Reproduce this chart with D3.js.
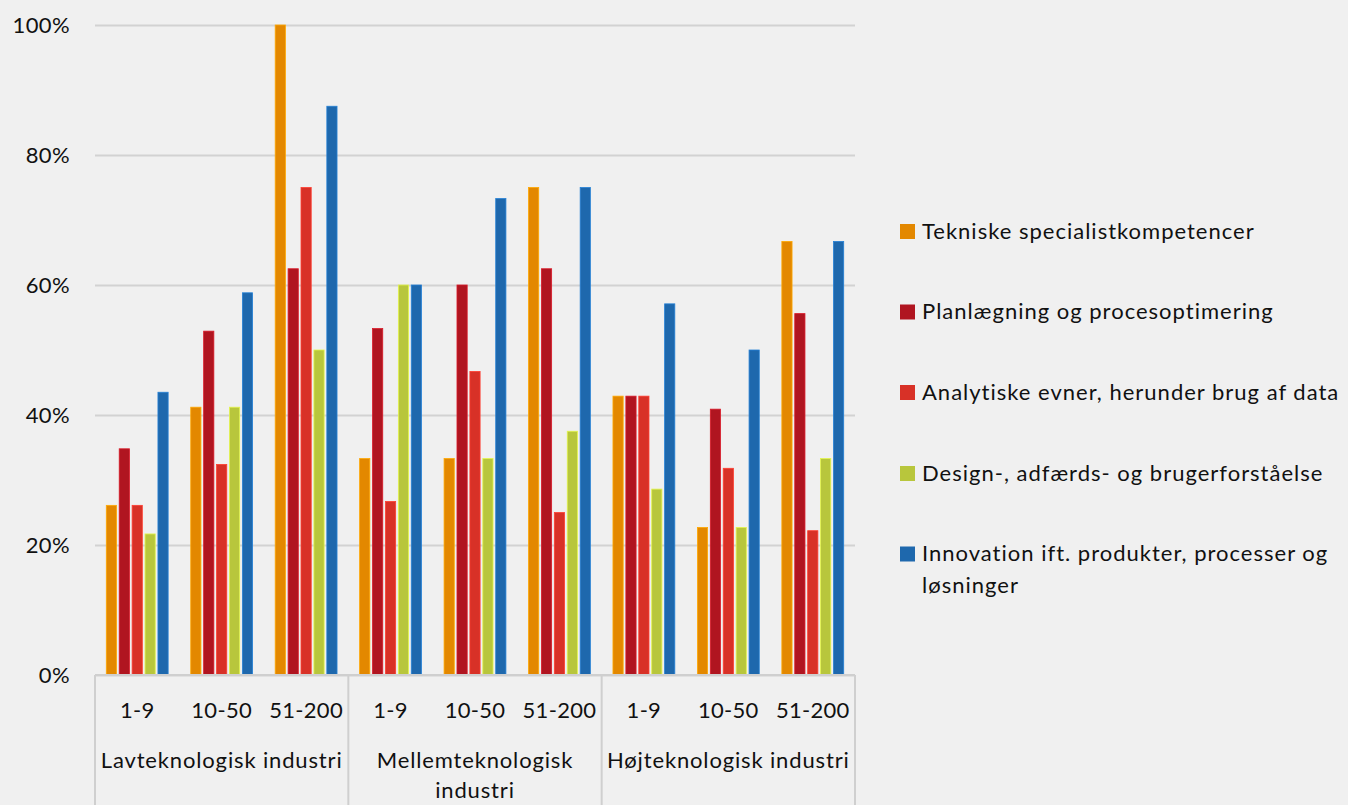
<!DOCTYPE html>
<html>
<head>
<meta charset="utf-8">
<script src="https://cdn.jsdelivr.net/npm/d3@7"></script>
<style>
  html, body { margin: 0; padding: 0; background: #f0f0f0; }
  svg { display: block; }
  text { font-family: Lato, "Open Sans", sans-serif; fill: #111; }
</style>
</head>
<body>
<svg id="chart" width="1348" height="805"></svg>
<script>
// Industry groups and company-size bands
const industries = ["Lavteknologisk industri", "Mellemteknologisk industri", "Højteknologisk industri"];
const sizes = ["1-9", "10-50", "51-200"];

// Competence areas (series)
const series = [
  "Tekniske specialistkompetencer",
  "Planlægning og procesoptimering",
  "Analytiske evner, herunder brug af data",
  "Design-, adfærds- og brugerforståelse",
  "Innovation ift. produkter, processer og løsninger"
];
const colors = ["#e38800", "#b01520", "#d83127", "#b8c63c", "#1e68ad"];

// Share per competence, in industry/size order (Lav 1-9 … Høj 51-200)
const tekniske   = [0.261, 0.412, 1.000, 0.333, 0.333, 0.750, 0.429, 0.227, 0.667];
const planlaeg   = [0.348, 0.529, 0.625, 0.533, 0.600, 0.625, 0.429, 0.409, 0.556];
const analytiske = [0.261, 0.324, 0.750, 0.267, 0.467, 0.250, 0.429, 0.318, 0.222];
const design     = [0.217, 0.412, 0.500, 0.600, 0.333, 0.375, 0.286, 0.227, 0.333];
const innovation = [0.435, 0.588, 0.875, 0.600, 0.733, 0.750, 0.571, 0.500, 0.667];
const seriesValues = [tekniske, planlaeg, analytiske, design, innovation];

const yTicks = [0, 0.2, 0.4, 0.6, 0.8, 1.0];

const svg = d3.select("#chart");

const plotLeft = 95, plotRight = 855, plotTop = 25, plotBottom = 675;
const fontSize = 22;

const groups = [];
industries.forEach((ind, i) => sizes.forEach((s, j) => groups.push({ key: i + "|" + j, industry: ind, size: s, idx: i * sizes.length + j })));

const x0 = d3.scaleBand().domain(groups.map(g => g.key)).range([plotLeft, plotRight]).padding(0);
const x1 = d3.scaleBand().domain(series).range([0, x0.bandwidth()]).paddingInner(0.21).paddingOuter(0.875);
const y = d3.scaleLinear().domain([0, 1]).range([plotBottom, plotTop]);

// Gridlines and y labels
const yAxis = d3.axisLeft(y).tickValues(yTicks).tickFormat(d3.format(".0%")).tickSize(-(plotRight - plotLeft)).tickPadding(25);
const ga = svg.append("g").attr("transform", `translate(${plotLeft},0)`).call(yAxis);
ga.select(".domain").remove();
ga.selectAll(".tick line").attr("stroke", "#d2d2d2").attr("stroke-width", 2);
ga.selectAll(".tick text")
  .attr("font-size", fontSize).attr("fill", "#111").attr("letter-spacing", 0.4)
  .style("font-family", "Lato, 'Open Sans', sans-serif");

// Bars
const gBars = svg.append("g");
groups.forEach(g => {
  const gg = gBars.append("g").attr("transform", `translate(${x0(g.key)},0)`);
  gg.selectAll("rect")
    .data(series.map((s, k) => ({ s, v: seriesValues[k][g.idx], c: colors[k] })))
    .join("rect")
    .attr("x", d => x1(d.s))
    .attr("width", x1.bandwidth())
    .attr("y", d => y(d.v))
    .attr("height", d => y(0) - y(d.v))
    .attr("fill", d => d.c)
    .attr("stroke", d => d3.color(d.c).brighter(0.6))
    .attr("stroke-width", 0.8);
});

// Category axis: baseline, dividers and labels
const axisCol = "#cfcfcf";
svg.append("line").attr("x1", plotLeft).attr("x2", plotRight).attr("y1", plotBottom).attr("y2", plotBottom)
  .attr("stroke", axisCol).attr("stroke-width", 2);

const industryEdges = industries.map((_, i) => x0(i + "|0")).concat([plotRight]);
svg.selectAll(".divider").data(industryEdges).join("line")
  .attr("class", "divider")
  .attr("x1", d => d).attr("x2", d => d)
  .attr("y1", plotBottom).attr("y2", 805)
  .attr("stroke", axisCol).attr("stroke-width", 2);

svg.selectAll(".size-label").data(groups).join("text")
  .attr("class", "size-label")
  .attr("x", g => x0(g.key) + x0.bandwidth() / 2)
  .attr("y", 718)
  .attr("text-anchor", "middle")
  .attr("font-size", fontSize)
  .attr("letter-spacing", 0.3)
  .text(g => g.size);

// Industry labels, wrapped to the width of their section
function wrap(textSel, width) {
  textSel.each(function () {
    const t = d3.select(this);
    const words = t.text().split(/\s+/);
    const xPos = t.attr("x");
    t.text(null);
    let line = [];
    let tspan = t.append("tspan").attr("x", xPos).attr("dy", 0);
    words.forEach(w => {
      line.push(w);
      tspan.text(line.join(" "));
      if (tspan.node().getComputedTextLength() > width && line.length > 1) {
        line.pop();
        tspan.text(line.join(" "));
        line = [w];
        tspan = t.append("tspan").attr("x", xPos).attr("dy", 30).text(w);
      }
    });
  });
}

svg.selectAll(".industry-label").data(industries).join("text")
  .attr("class", "industry-label")
  .attr("x", (d, i) => (industryEdges[i] + industryEdges[i + 1]) / 2)
  .attr("y", 768)
  .attr("text-anchor", "middle")
  .attr("font-size", fontSize)
  .attr("letter-spacing", 0.85)
  .text(d => d)
  .call(wrap, 246);

// Legend
const legend = svg.append("g").attr("transform", "translate(900,0)");
const legendY = [231.5, 312, 392.5, 473.5, 554];
series.forEach((s, k) => {
  const item = legend.append("g").attr("transform", `translate(0,${legendY[k]})`);
  item.append("rect").attr("x", 0).attr("y", -7.5).attr("width", 15).attr("height", 15).attr("fill", colors[k]);
  const t = item.append("text").attr("x", 22).attr("y", 7).attr("font-size", fontSize).attr("letter-spacing", 1.0);
  const lines = s === "Innovation ift. produkter, processer og løsninger"
    ? ["Innovation ift. produkter, processer og", "løsninger"] : [s];
  lines.forEach((ln, li) => t.append("tspan").attr("x", 22).attr("dy", li ? 32 : 0).text(ln));
});
</script>
</body>
</html>
